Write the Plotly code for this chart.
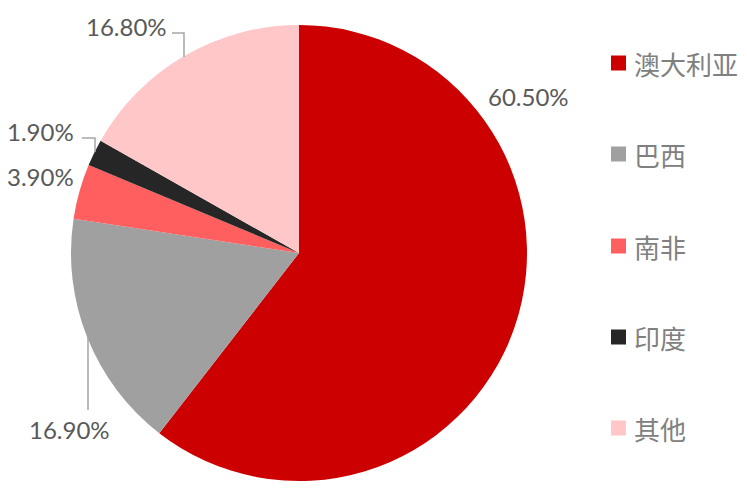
import plotly.graph_objects as go

# page has an 8px body margin, so the figure is sized to fit inside the window
OFF = 8
W, H = 747 - OFF, 489 - OFF

countries = ["澳大利亚", "巴西", "南非", "印度", "其他"]
shares = [60.5, 16.9, 3.9, 1.9, 16.8]
colors = ["#CC0000", "#A0A0A0", "#FF5F5F", "#262626", "#FFC7C7"]

# label centres (window px) for the percentage texts, same order as countries
label_pos = [(528, 96), (69, 429), (40, 177), (40, 131), (126, 26)]
# leader lines (window px polyline), None if no leader
leaders = [None, [(88, 337), (88, 410)], None,
           [(82, 138), (95, 138), (95, 152)],
           [(172, 33), (184, 33), (184, 57)]]


def px(x, y):
    return (x - OFF) / W, 1 - (y - OFF) / H


dx0, dy0 = px(71, 481)
dx1, dy1 = px(527, 25)

fig = go.Figure(go.Pie(
    labels=countries,
    values=shares,
    sort=False,
    direction="clockwise",
    rotation=0,
    marker=dict(colors=colors, line=dict(width=0)),
    textinfo="none",
    hoverinfo="label+percent",
    showlegend=False,
    domain=dict(x=[dx0, dx1], y=[dy0, dy1]),
))

annotations = []
shapes = []
for v, (lx, ly), ld in zip(shares, label_pos, leaders):
    ax, ay = px(lx, ly)
    annotations.append(dict(
        x=ax, y=ay, xref="paper", yref="paper", showarrow=False,
        text=f"{v:.2f}%", xanchor="center", yanchor="middle",
        font=dict(family="Lato, Open Sans, sans-serif", size=24, color="#595959"),
    ))
    if ld:
        path = ""
        for i, (x, y) in enumerate(ld):
            qx, qy = px(x, y)
            path += ("M" if i == 0 else "L") + f"{qx},{qy} "
        shapes.append(dict(type="path", xref="paper", yref="paper", path=path,
                           line=dict(color="#A6A6A6", width=1.5)))

# legend drawn by hand to keep the wide spacing of the original
legend_y = [63, 154, 246, 337, 428]
for name, c, ly in zip(countries, colors, legend_y):
    x0, y0 = px(611, ly - 7.5)
    x1, y1 = px(626, ly + 7.5)
    shapes.append(dict(type="rect", xref="paper", yref="paper",
                       x0=x0, x1=x1, y0=y1, y1=y0,
                       fillcolor=c, line=dict(width=0)))
    tx, ty = px(632, ly)
    annotations.append(dict(
        x=tx, y=ty, xref="paper", yref="paper", showarrow=False,
        text=name, xanchor="left", yanchor="middle",
        font=dict(family="Noto Sans CJK SC", size=26, color="#808080"),
    ))

fig.update_layout(
    width=W, height=H,
    margin=dict(l=0, r=0, t=0, b=0),
    paper_bgcolor="white",
    plot_bgcolor="white",
    annotations=annotations,
    shapes=shapes,
)

fig.write_html("out.html")
